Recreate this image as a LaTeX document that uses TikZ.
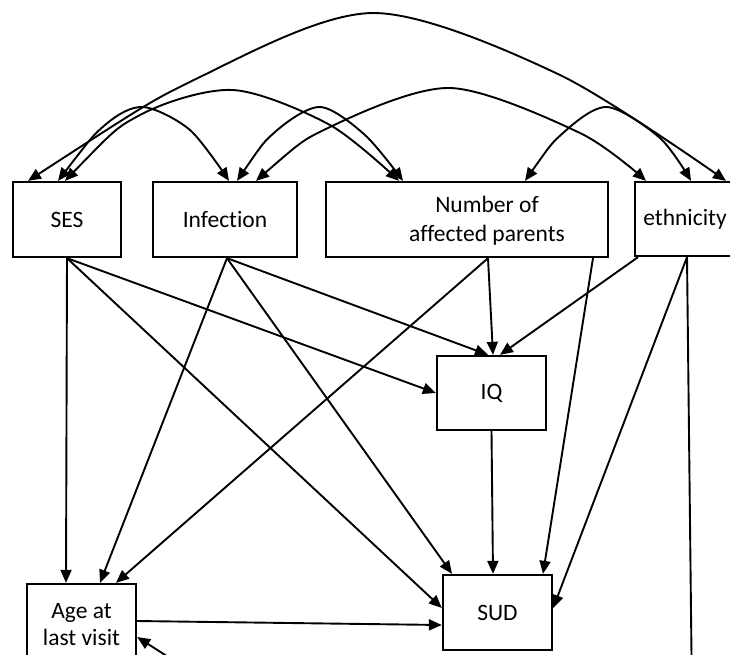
\documentclass[tikz,border=0pt]{standalone}
\usepackage{fontspec}
\setmainfont[Ligatures=NoCommon]{Carlito}
\usetikzlibrary{arrows.meta,calc}
\begin{document}
\begin{tikzpicture}[x=1pt,y=-1pt,
  box/.style={draw,line width=2.3pt,minimum height=75pt,inner sep=0pt,font=\fontsize{23.5}{28}\selectfont,align=center},
  lbl/.style={font=\fontsize{23.5}{29}\selectfont,align=center,inner sep=0pt},
  arr/.style={line width=1.9pt,-{Triangle[length=13pt,width=11pt]}},
  dbl/.style={line width=1.9pt,{Triangle[length=13pt,width=11pt]}-{Triangle[length=13pt,width=11pt]}},
  plain/.style={line width=1.9pt}]
\useasboundingbox (0,0) rectangle (730,654);
\clip (0,0) rectangle (730,654);
% boxes
\node[box,minimum width=108pt] (ses) at (67,219.5) {SES};
\node[box,minimum width=144pt] (inf) at (225,219.5) {Infection};
\node[box,minimum width=282pt] (num) at (467,219.5) {};
\node[lbl] (numtxt) at (487,221) {Number of\\affected parents};
\node[box,minimum width=100pt,minimum height=74pt] (eth) at (685,219) {ethnicity};
\node[box,minimum width=109pt,minimum height=74pt] (iq) at (491.5,393) {IQ};
\node[box,minimum width=109pt] (sud) at (497.5,612.5) {SUD};
\node[box,minimum width=109pt,minimum height=82pt,font=\fontsize{23.5}{27}\selectfont] (age) at (81.5,625) {Age at\\last visit};
% ports on top edges
\coordinate (s1) at ($(ses.north)+(-39,0)$);
\coordinate (s2) at ($(ses.north)+(-9,0)$);
\coordinate (s3) at ($(ses.north)+(-2,0)$);
\coordinate (i1) at ($(inf.north)+(4,0)$);
\coordinate (i2) at ($(inf.north)+(12,0)$);
\coordinate (i3) at ($(inf.north)+(31,0)$);
\coordinate (n1) at ($(num.north)+(-68,0)$);
\coordinate (n2) at ($(num.north)+(-64,0)$);
\coordinate (n3) at ($(num.north)+(58,0)$);
\coordinate (e1) at ($(eth.north)+(-39,0)$);
\coordinate (e2) at ($(eth.north)+(6,0)$);
\coordinate (e3) at ($(eth.north)+(41,0)$);
% double-headed arcs
\draw[dbl] plot[smooth] coordinates {(s1) (200,77) (373,13) (560,75) (e3)};
\draw[dbl] plot[smooth] coordinates {(s2) (105,125) (143,107) (190,130) (i1)};
\draw[dbl] plot[smooth] coordinates {(s3) (140,115) (233,90) (330,125) (n1)};
\draw[dbl] plot[smooth] coordinates {(i2) (275,132) (320,107) (365,135) (n2)};
\draw[dbl] plot[smooth] coordinates {(i3) (330,127) (450,88) (580,133) (e1)};
\draw[dbl] plot[smooth] coordinates {(n3) (563,133) (607,107) (660,138) (e2)};
% SES
\draw[arr] (ses.south) -- ($(age.north)+(-15.5,0)$);
\draw[arr] (ses.south) -- (iq.west);
\draw[arr] (ses.south) -- ($(sud.west)+(0,-4.5)$);
% Infection
\draw[arr] ($(inf.south)+(2,0)$) -- ($(age.north)+(18.5,0)$);
\draw[arr] ($(inf.south)+(2,0)$) -- ($(iq.north)+(-3.5,0)$);
\draw[arr] ($(inf.south)+(2,0)$) -- ($(sud.north)+(-45.5,0)$);
% Number of affected parents
\draw[arr] ($(num.south)+(21,0)$) -- ($(age.north)+(34.5,0)$);
\draw[arr] ($(num.south)+(21,0)$) -- ($(iq.north)+(1.5,0)$);
\draw[arr] ($(num.south)+(126,0)$) -- ($(sud.north)+(45.5,0)$);
% ethnicity
\draw[arr] ($(eth.south)+(-47,0)$) -- ($(iq.north)+(8.5,0)$);
\draw[arr] ($(eth.south)+(2,0)$) -- ($(sud.east)+(0,-4.5)$);
\coordinate (ethdown) at (692,700);
\draw[plain] ($(eth.south)+(2,0)$) -- (ethdown);
\coordinate (lowsrc) at (204,680);
\draw[arr] (lowsrc) -- ($(age.east)+(0,12)$);
% IQ and Age to SUD
\draw[arr] (iq.south) -- ($(sud.north)+(-4.5,0)$);
\draw[arr] ($(age.east)+(0,-4)$) -- ($(sud.west)+(0,12.5)$);
\end{tikzpicture}
\end{document}
